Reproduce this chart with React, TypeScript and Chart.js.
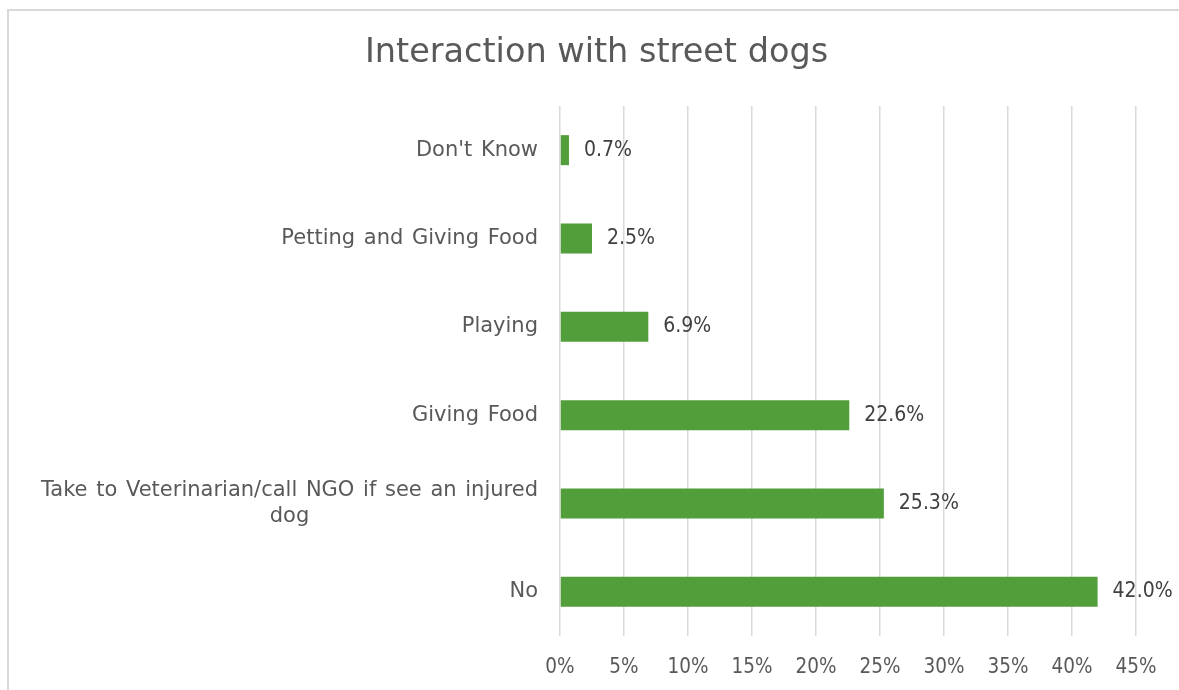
import React, { useEffect, useRef } from "react";
import { Chart, registerables } from "chart.js";

Chart.register(...registerables);

const TITLE = "Interaction with street dogs";
const categories: string[][] = [
  ["Don't Know"],
  ["Petting and Giving Food"],
  ["Playing"],
  ["Giving Food"],
  ["Take to Veterinarian/call NGO if see an injured", "dog"],
  ["No"],
];
const values: number[] = [0.7, 2.5, 6.9, 22.6, 25.3, 42.0];
const xTicks: number[] = [0, 5, 10, 15, 20, 25, 30, 35, 40, 45];

const FONT = "'DejaVu Sans', sans-serif";
const NUM_FONT = "'DejaVu Sans Condensed', 'DejaVu Sans', sans-serif";
const BAR_COLOR = "#529e3a";
const GRID_COLOR = "#d9d9d9";
const TEXT_COLOR = "#595959";
const LABEL_COLOR = "#404040";

const framePlugin = {
  id: "frame",
  beforeDraw(chart: any) {
    const ctx = chart.ctx;
    ctx.save();
    ctx.strokeStyle = GRID_COLOR;
    ctx.lineWidth = 2;
    ctx.beginPath();
    ctx.moveTo(8, chart.height);
    ctx.lineTo(8, 10);
    ctx.lineTo(chart.width, 10);
    ctx.stroke();
    ctx.restore();
  },
};

const titlePlugin = {
  id: "customTitle",
  afterDraw(chart: any) {
    const ctx = chart.ctx;
    ctx.save();
    ctx.fillStyle = TEXT_COLOR;
    ctx.font = `33.5px ${FONT}`;
    ctx.textAlign = "center";
    ctx.textBaseline = "alphabetic";
    ctx.fillText(TITLE, 596.5, 62);
    ctx.restore();
  },
};

const yLabelPlugin = {
  id: "yLabels",
  afterDraw(chart: any) {
    const ctx = chart.ctx;
    const yScale = chart.scales.y;
    const right = chart.chartArea.left - 22;
    ctx.save();
    ctx.fillStyle = TEXT_COLOR;
    ctx.font = `21px ${FONT}`;
    (ctx as any).wordSpacing = "2px";
    ctx.textBaseline = "middle";
    const lh = 26;
    categories.forEach((lines, i) => {
      const cy = yScale.getPixelForValue(i);
      const widths = lines.map((l) => ctx.measureText(l).width);
      const maxW = Math.max(...widths);
      const centerX = right - maxW / 2;
      const startY = cy - ((lines.length - 1) * lh) / 2;
      lines.forEach((line, j) => {
        ctx.textAlign = lines.length > 1 ? "center" : "right";
        const x = lines.length > 1 ? centerX : right;
        ctx.fillText(line, x, startY + j * lh);
      });
    });
    ctx.restore();
  },
};

const dataLabelPlugin = {
  id: "dataLabels",
  afterDatasetsDraw(chart: any) {
    const ctx = chart.ctx;
    const meta = chart.getDatasetMeta(0);
    ctx.save();
    ctx.fillStyle = LABEL_COLOR;
    ctx.font = `21px ${NUM_FONT}`;
    ctx.textAlign = "left";
    ctx.textBaseline = "middle";
    meta.data.forEach((bar: any, i: number) => {
      ctx.fillText(values[i].toFixed(1) + "%", bar.x + 15, bar.y);
    });
    ctx.restore();
  },
};

export default function App() {
  const ref = useRef<HTMLCanvasElement>(null);

  useEffect(() => {
    document.body.style.margin = "0";
    const chart = new Chart(ref.current!, {
      type: "bar",
      data: {
        labels: categories.map((c) => c.join(" ")),
        datasets: [
          {
            data: values,
            backgroundColor: BAR_COLOR,
            borderWidth: 0,
            barPercentage: 0.34,
            categoryPercentage: 1,
          },
        ],
      },
      options: {
        indexAxis: "y",
        animation: false,
        responsive: false,
        layout: { padding: { top: 106, right: 43, bottom: 12, left: 0 } },
        plugins: {
          legend: { display: false },
          title: { display: false },
          tooltip: { enabled: false },
        },
        scales: {
          x: {
            min: 0,
            max: 45,
            afterBuildTicks(scale: any) {
              scale.ticks = xTicks.map((v) => ({ value: v }));
            },
            afterFit(scale: any) {
              scale.height = 42;
            },
            grid: { color: GRID_COLOR, lineWidth: 1.5, drawTicks: false },
            border: { display: false },
            ticks: {
              color: TEXT_COLOR,
              font: { family: NUM_FONT, size: 20.5 },
              padding: 19,
              maxRotation: 0,
              callback: (v: any) => v + "%",
            },
          },
          y: {
            grid: { display: false },
            border: { display: false },
            ticks: { display: false },
            afterFit(scale: any) {
              scale.width = 560;
            },
          },
        },
      },
      plugins: [framePlugin, titlePlugin, yLabelPlugin, dataLabelPlugin],
    });
    return () => chart.destroy();
  }, []);

  return (
    <div style={{ position: "absolute", left: 0, top: 0, width: 1179, height: 690, background: "#fff" }}>
      <canvas ref={ref} width={1179} height={690} />
    </div>
  );
}
